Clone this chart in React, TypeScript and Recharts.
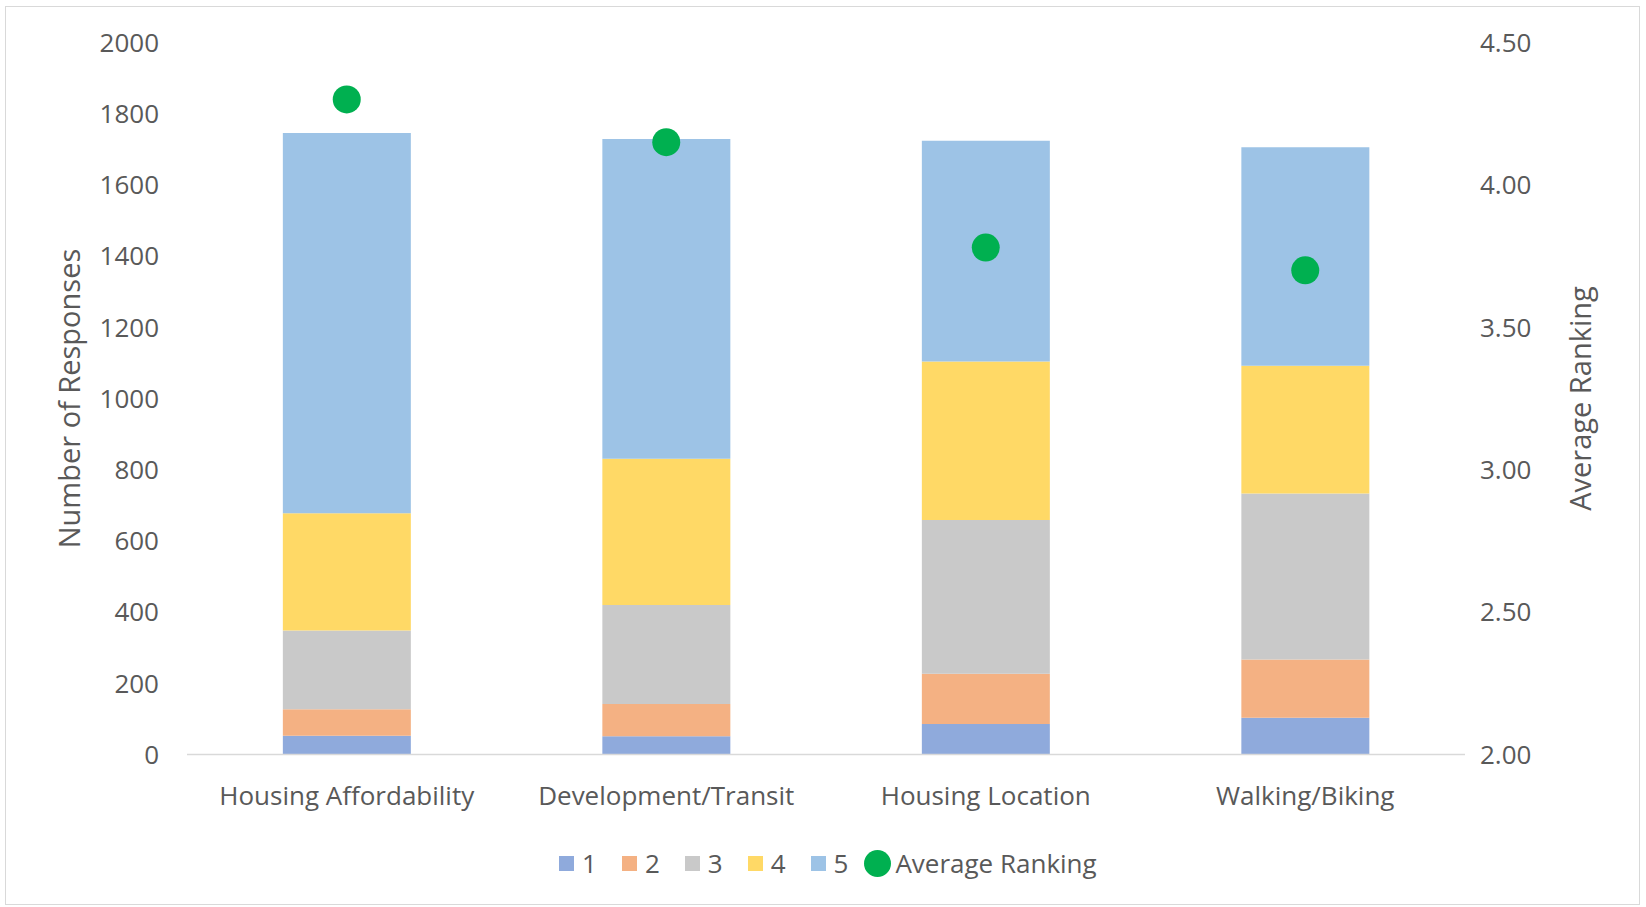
import React from "react";
import { ComposedChart, Bar, Line, XAxis, YAxis, Legend } from "recharts";

const categories = ["Housing Affordability", "Development/Transit", "Housing Location", "Walking/Biking"];
const rank1 = [53, 51, 86, 103];
const rank2 = [74, 91, 141, 164];
const rank3 = [221, 278, 432, 466];
const rank4 = [330, 411, 445, 359];
const rank5 = [1068, 898, 620, 614];
const avgRanking = [4.3, 4.15, 3.78, 3.7];
const leftTicks = [0, 200, 400, 600, 800, 1000, 1200, 1400, 1600, 1800, 2000];
const rightTicks = [2, 2.5, 3, 3.5, 4, 4.5];

const seriesKeys = ["r1", "r2", "r3", "r4", "r5"];
const seriesNames = ["1", "2", "3", "4", "5"];
const seriesColors = ["#8FAADC", "#F4B183", "#C9C9C9", "#FFD966", "#9DC3E6"];
const dotColor = "#00B050";
const textColor = "#595959";
const FONT = '"Open Sans", "Noto Sans", sans-serif';

const data = categories.map((c, i) => ({
  category: c,
  r1: rank1[i],
  r2: rank2[i],
  r3: rank3[i],
  r4: rank4[i],
  r5: rank5[i],
  avg: avgRanking[i],
}));

const LegendContent = () => (
  <div
    style={{
      display: "flex",
      alignItems: "center",
      marginLeft: 559,
      height: 36,
      fontSize: 26,
      color: textColor,
      fontFamily: FONT,
      whiteSpace: "nowrap",
    }}
  >
    {seriesNames.map((n, i) => (
      <React.Fragment key={n}>
        <span style={{ display: "inline-block", width: 15, height: 15, background: seriesColors[i], marginRight: 8 }} />
        <span style={{ marginRight: i === seriesNames.length - 1 ? 16 : 25 }}>{n}</span>
      </React.Fragment>
    ))}
    <span style={{ display: "inline-block", width: 27, height: 27, borderRadius: "50%", background: dotColor, marginRight: 4 }} />
    <span>Average Ranking</span>
  </div>
);

export default function App() {
  return (
    <div style={{ position: "absolute", left: 0, top: 0, width: 1646, height: 907, background: "#fff", fontFamily: FONT }}>
      <div
        style={{
          position: "absolute",
          left: 5,
          top: 6,
          width: 1635,
          height: 899,
          border: "1.5px solid #D9D9D9",
          boxSizing: "border-box",
        }}
      />
      <ComposedChart
        width={1646}
        height={907}
        data={data}
        margin={{ top: 42.5, right: 0, bottom: 92.5, left: 0 }}
        barCategoryGap="30%"
        style={{ position: "absolute", left: 0, top: 0 }}
      >
        <XAxis
          dataKey="category"
          height={60}
          axisLine={{ stroke: "#D9D9D9", strokeWidth: 1.5 }}
          tickLine={false}
          tickSize={0}
          tickMargin={32}
          interval={0}
          tick={{ fill: textColor, fontSize: 26, fontFamily: FONT }}
        />
        <YAxis
          yAxisId="left"
          width={187}
          domain={[0, 2000]}
          ticks={leftTicks}
          axisLine={false}
          tickLine={false}
          tickSize={0}
          tickMargin={28}
          tick={{ fill: textColor, fontSize: 26, fontFamily: FONT }}
          label={{
            content: (props: any) => {
              const vb = props.viewBox;
              const cx = vb.x + 68;
              const cy = vb.y + vb.height / 2;
              return (
                <text
                  x={cx}
                  y={cy}
                  transform={`rotate(-90 ${cx} ${cy})`}
                  textAnchor="middle"
                  dominantBaseline="central"
                  fill={textColor}
                  fontSize={29}
                  fontFamily={FONT}
                >
                  Number of Responses
                </text>
              );
            },
          }}
        />
        <YAxis
          yAxisId="right"
          orientation="right"
          width={181}
          domain={[2, 4.5]}
          ticks={rightTicks}
          tickFormatter={(v: number) => v.toFixed(2)}
          axisLine={false}
          tickLine={false}
          tickSize={0}
          tickMargin={15}
          tick={{ fill: textColor, fontSize: 26, fontFamily: FONT }}
          label={{
            content: (props: any) => {
              const vb = props.viewBox;
              const cx = vb.x + 114;
              const cy = vb.y + vb.height / 2;
              return (
                <text
                  x={cx}
                  y={cy}
                  transform={`rotate(-90 ${cx} ${cy})`}
                  textAnchor="middle"
                  dominantBaseline="central"
                  fill={textColor}
                  fontSize={29}
                  fontFamily={FONT}
                >
                  Average Ranking
                </text>
              );
            },
          }}
        />
        {seriesKeys.map((k, i) => (
          <Bar
            key={k}
            dataKey={k}
            name={seriesNames[i]}
            stackId="a"
            yAxisId="left"
            fill={seriesColors[i]}
            isAnimationActive={false}
          />
        ))}
        <Line
          dataKey="avg"
          name="Average Ranking"
          yAxisId="right"
          stroke="none"
          strokeWidth={0}
          dot={{ r: 14, fill: dotColor, stroke: "none" }}
          activeDot={false}
          isAnimationActive={false}
        />
        <Legend
          layout="horizontal"
          verticalAlign="middle"
          align="center"
          wrapperStyle={{ top: 845, left: 0, width: 1646, margin: 0 }}
          content={LegendContent}
        />
      </ComposedChart>
    </div>
  );
}
